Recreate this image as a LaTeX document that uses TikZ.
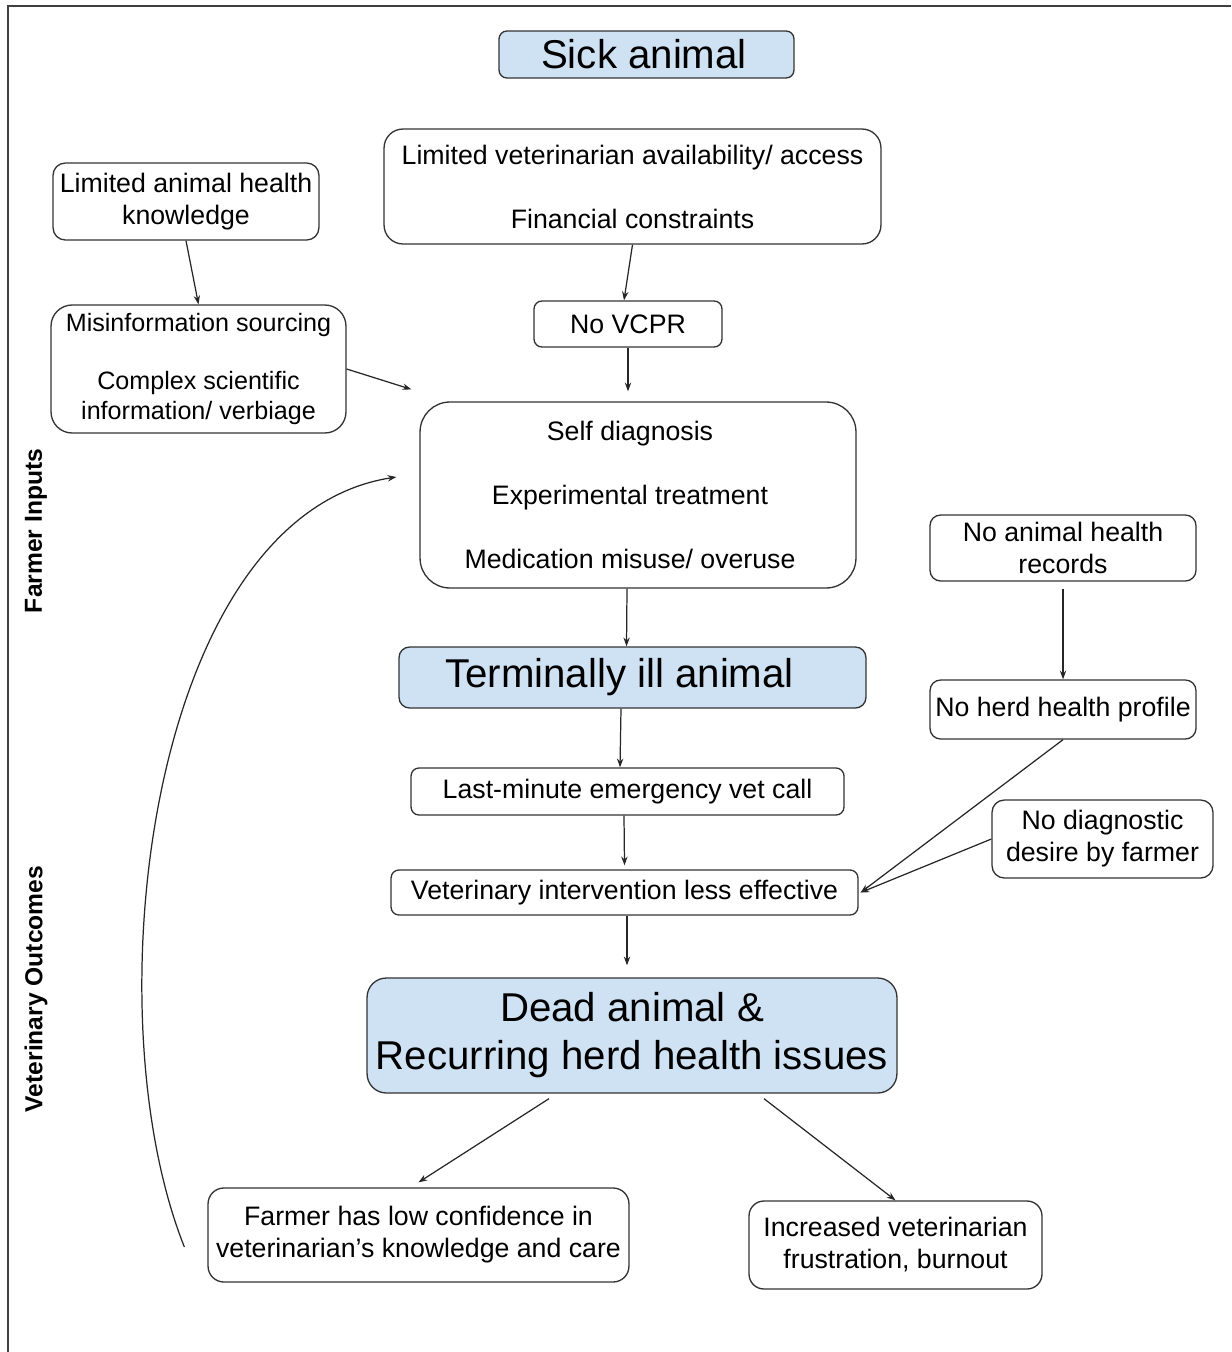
\documentclass[tikz,border=0pt]{standalone}
\usepackage{fontspec}
\setmainfont{Liberation Sans}
\usetikzlibrary{arrows.meta, positioning, calc}
\definecolor{boxblue}{HTML}{CFE2F3}
\def\smallfont{\fontsize{15.2}{18.2}\selectfont}
\def\bigfont{\fontsize{22.9}{27.3}\selectfont}
\def\gap{18.2pt}
\newcommand{\offcentre}[2]{\mbox{#2\kern#1}}

\begin{document}
\begin{tikzpicture}[x=0.02cm, y=-0.02cm, ->, >={Stealth[length=5pt,width=3.6pt]}, line width=0.7pt, draw=black!85]
    \tikzstyle{box}=[draw=black!80, line width=0.75pt, rounded corners=5pt, align=center, inner sep=0pt, font=\smallfont]
    \tikzstyle{main box}=[box, fill=boxblue, font=\bigfont]
    \tikzstyle{annot}=[font=\fontsize{14}{16}\selectfont\bfseries, rotate=90]

    \useasboundingbox (0,0) rectangle (1231,1352);
    % frame
    \draw[-, line width=1.1pt, black!75] (8,1352) -- (8,6) -- (1231,6);

    % Draw the main chain
    \node[main box, minimum width=5.9cm, minimum height=0.94cm, rounded corners=4.5pt] (sick) at (646.5,54.5) {\offcentre{0.1cm}{Sick animal}};
    \node[box, minimum width=9.94cm, minimum height=2.3cm, rounded corners=10.8pt] (vet) at (632.5,186.5)
        {Limited veterinarian availability/ access\\[\gap]Financial constraints};
    \node[box, minimum width=3.76cm, minimum height=0.92cm, rounded corners=4.5pt] (vcpr) at (628,324) {No VCPR};
    \node[box, minimum width=8.72cm, minimum height=3.72cm, rounded corners=17pt] (self) at (638,495)
        {\offcentre{0.32cm}{Self diagnosis}\\[\gap]\offcentre{0.32cm}{Experimental treatment}\\[\gap]\offcentre{0.32cm}{Medication misuse/ overuse}};
    \node[main box, minimum width=9.34cm, minimum height=1.22cm, rounded corners=6pt] (terminal) at (632.5,677.5) {\offcentre{0.52cm}{Terminally ill animal}};
    \node[box, minimum width=8.66cm, minimum height=0.94cm, rounded corners=4.5pt] (lastmin) at (627.5,791.5) {Last-minute emergency vet call};
    \node[box, minimum width=9.34cm, minimum height=0.9cm, rounded corners=4.5pt] (vetint) at (624.5,892.5) {Veterinary intervention less effective};
    \node[main box, minimum width=10.6cm, minimum height=2.3cm, rounded corners=11pt] (dead) at (632,1035.5)
        {Dead animal \&\\Recurring herd health issues};

    % Draw the side boxes
    \node[box, minimum width=5.32cm, minimum height=1.54cm, rounded corners=7pt] (know) at (186,201.5) {Limited animal health\\knowledge};
    \node[box, minimum width=5.9cm, minimum height=2.56cm, rounded corners=12pt, font=\fontsize{14.3}{17}\selectfont] (misinfo) at (198.5,369)
        {Misinformation sourcing\\[16.5pt]Complex scientific\\information/ verbiage};
    \node[box, minimum width=5.32cm, minimum height=1.32cm, rounded corners=6pt] (records) at (1063,548) {No animal health\\records};
    \node[box, minimum width=5.32cm, minimum height=1.18cm, rounded corners=6pt] (profile) at (1063,709.5) {No herd health profile};
    \node[box, minimum width=4.42cm, minimum height=1.56cm, rounded corners=7pt] (desire) at (1102.5,839) {No diagnostic\\desire by farmer};

    % Draw the outcome boxes
    \node[box, minimum width=8.42cm, minimum height=1.88cm, rounded corners=9pt] (farmer) at (418.5,1235)
        {Farmer has low confidence in\\veterinarian’s knowledge and care};
    \node[box, minimum width=5.86cm, minimum height=1.76cm, rounded corners=8.5pt] (incr) at (895.5,1245)
        {Increased veterinarian\\frustration, burnout};

    % Annotate the sections
    \node[annot] (inputs) at (36,531) {Farmer Inputs};
    \node[annot] (outcomes) at (36,989) {Veterinary Outcomes};

    % Connect the boxes
    \coordinate (self-in) at ($(self.north west)+(-8,-12)$);
    \draw (know.south) -- (misinfo.north);
    \draw (vet.south) -- ([xshift=-0.08cm]vcpr.north);
    \draw (misinfo.east) -- (self-in);
    \draw[shorten >=0.2cm] (vcpr.south) -- (vcpr.south |- self.north);
    \draw ([xshift=-0.22cm]self.south) -- ([xshift=-0.12cm]terminal.north);
    \draw ([xshift=-0.23cm]terminal.south) -- ([xshift=-0.15cm]lastmin.north);
    \draw ([xshift=-0.07cm]lastmin.south) -- ([yshift=0.08cm]vetint.north);
    \draw[shorten >=0.24cm] ([xshift=0.05cm]vetint.south) -- ([xshift=0.05cm]vetint.south |- dead.north);
    \draw[shorten <=0.14cm] (records.south) -- (profile.north);
    \draw (profile.south) -- ([xshift=0.04cm]vetint.east);
    \draw (desire.west) -- ([xshift=0.04cm]vetint.east);
    \draw ([xshift=-1.66cm,yshift=-0.1cm]dead.south) -- ([yshift=0.1cm]farmer.north);
    \draw ([xshift=2.64cm,yshift=-0.1cm]dead.south) -- (incr.north);

    % Feedback loop
    \coordinate (loop-out) at ($(farmer.west)+(-23,12)$);
    \coordinate (loop-in) at ($(self.west)+(-23,-18)$);
    \draw (loop-out) .. controls (90,1010) and (150,515) .. (loop-in);
\end{tikzpicture}
\end{document}
